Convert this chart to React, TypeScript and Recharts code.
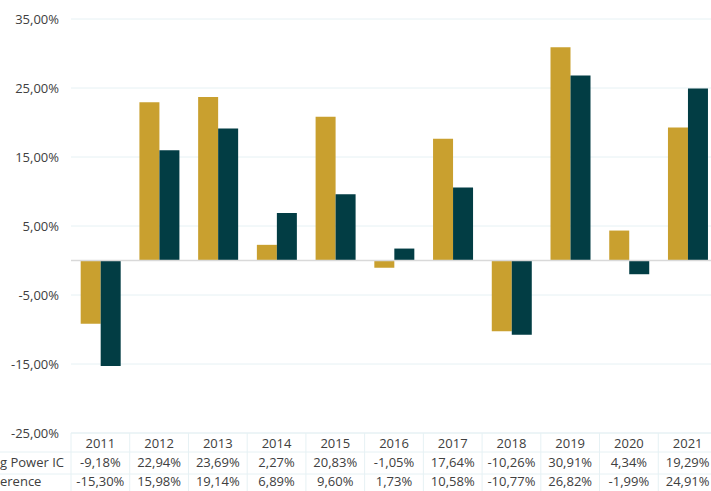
import React from 'react';
import { BarChart, Bar, XAxis, YAxis, CartesianGrid, ReferenceLine } from 'recharts';

const years = ['2011', '2012', '2013', '2014', '2015', '2016', '2017', '2018', '2019', '2020', '2021'];
const powerIC = [-9.18, 22.94, 23.69, 2.27, 20.83, -1.05, 17.64, -10.26, 30.91, 4.34, 19.29];
const reference = [-15.3, 15.98, 19.14, 6.89, 9.6, 1.73, 10.58, -10.77, 26.82, -1.99, 24.91];
const yTicks = [-25, -15, -5, 5, 15, 25, 35];
const rowLabels = ['g Power IC', 'erence'];

const GOLD = '#C9A02F';
const TEAL = '#023D44';
const TEXT = '#404040';
const GRID = '#E6F1F4';
const FONT = '"Open Sans", sans-serif';

const W = 717;
const H = 491;
const LEFT = 71;
const TOP = 19;
const AXIS_H = 58;
const PLOT_BOTTOM = H - AXIS_H;
const BAND = (W - LEFT) / years.length;

const data = years.map((year, i) => ({ year, powerIC: powerIC[i], reference: reference[i] }));

const pct = (v: number) => v.toFixed(2).replace('.', ',') + '%';

// draws one column of the data table under the plot
const TableTick = (props: any) => {
  const { x, index } = props;
  const year = years[index];
  const left = x - BAND / 2;
  const rows = [PLOT_BOTTOM + 12, PLOT_BOTTOM + 31, PLOT_BOTTOM + 50];
  return (
    <g fontFamily={FONT} fontSize={13} fill={TEXT}>
      {index === 0 && (
        <g>
          <line x1={LEFT} x2={W} y1={PLOT_BOTTOM} y2={PLOT_BOTTOM} stroke={GRID} />
          <line x1={0} x2={W} y1={PLOT_BOTTOM + 19} y2={PLOT_BOTTOM + 19} stroke={GRID} />
          <line x1={0} x2={W} y1={PLOT_BOTTOM + 41} y2={PLOT_BOTTOM + 41} stroke={GRID} />
          {rowLabels.map((l, r) => (
            <text key={l} x={0} y={rows[r + 1]} textAnchor="start" dominantBaseline="middle" fill={TEXT}>
              {l}
            </text>
          ))}
        </g>
      )}
      <line x1={left} x2={left} y1={PLOT_BOTTOM} y2={H} stroke={GRID} />
      {index === years.length - 1 && (
        <line x1={left + BAND} x2={left + BAND} y1={PLOT_BOTTOM} y2={H} stroke={GRID} />
      )}
      <text x={x} y={rows[0]} textAnchor="middle" dominantBaseline="middle" fill={TEXT}>{year}</text>
      <text x={x} y={rows[1]} textAnchor="middle" dominantBaseline="middle" fill={TEXT}>{pct(powerIC[index])}</text>
      <text x={x} y={rows[2]} textAnchor="middle" dominantBaseline="middle" fill={TEXT}>{pct(reference[index])}</text>
    </g>
  );
};

export default function App() {
  return (
    <div style={{ position: 'fixed', left: 0, top: 0, width: 711, height: 491, overflow: 'hidden', background: '#fff' }}>
      <BarChart
        width={W}
        height={H}
        data={data}
        margin={{ top: TOP, right: 0, bottom: 0, left: 0 }}
        barCategoryGap="16.5%"
        barGap={0}
      >
        <CartesianGrid vertical={false} stroke={GRID} />
        <XAxis
          dataKey="year"
          height={AXIS_H}
          axisLine={false}
          tickLine={false}
          interval={0}
          tick={<TableTick />}
        />
        <YAxis
          width={LEFT}
          domain={[-25, 35]}
          ticks={yTicks}
          axisLine={false}
          tickLine={false}
          tickMargin={6}
          tickFormatter={pct}
          tick={{ fill: TEXT, fontSize: 13, fontFamily: FONT }}
        />
        <ReferenceLine y={0} stroke="#D9D9D9" strokeWidth={1.5} />
        <Bar dataKey="powerIC" fill={GOLD} isAnimationActive={false} />
        <Bar dataKey="reference" fill={TEAL} isAnimationActive={false} />
      </BarChart>
    </div>
  );
}
